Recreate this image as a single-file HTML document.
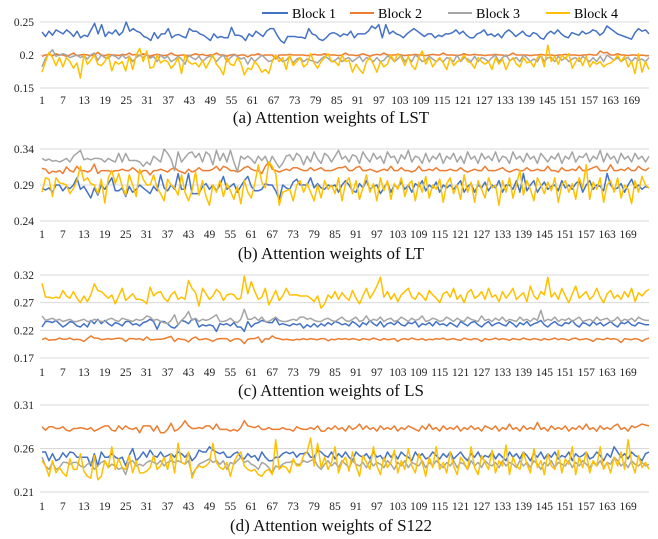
<!DOCTYPE html>
<html><head><meta charset="utf-8">
<style>
html,body{margin:0;padding:0;background:#fff;}
svg{display:block;font-family:"Liberation Serif",serif;}
</style></head>
<body>
<svg id="chart" width="658" height="539" viewBox="0 0 658 539" xmlns="http://www.w3.org/2000/svg">
<g>
  <g><line x1="262" y1="13" x2="288" y2="13" stroke="#4472C4" stroke-width="2"/><text x="292" y="18" font-size="14">Block 1</text></g>
  <g><line x1="350" y1="13" x2="374" y2="13" stroke="#ED7D31" stroke-width="2"/><text x="378" y="18" font-size="14">Block 2</text></g>
  <g><line x1="448" y1="13" x2="472" y2="13" stroke="#A5A5A5" stroke-width="2"/><text x="476" y="18" font-size="14">Block 3</text></g>
  <g><line x1="546" y1="13" x2="570" y2="13" stroke="#FFC000" stroke-width="2"/><text x="574" y="18" font-size="14">Block 4</text></g>
</g>
</svg>
<script>
const xTickLabels = [1,7,13,19,25,31,37,43,49,55,61,67,73,79,85,91,97,103,109,115,121,127,133,139,145,151,157,163,169];
const seriesNames = ["Block 1","Block 2","Block 3","Block 4"];
const panelTitles = ["(a) Attention weights of LST","(b) Attention weights of LT","(c) Attention weights of LS","(d) Attention weights of S122"];
const yTicksA = [0.25,0.2,0.15];
const yTicksB = [0.34,0.29,0.24];
const yTicksC = [0.32,0.27,0.22,0.17];
const yTicksD = [0.31,0.26,0.21];

const lstB1 = [.235,.228,.236,.23,.238,.235,.232,.238,.234,.228,.236,.226,.23,.228,.238,.248,.232,.246,.228,.235,.232,.238,.23,.235,.25,.236,.24,.236,.234,
.228,.226,.222,.234,.225,.232,.232,.24,.226,.23,.231,.228,.226,.24,.236,.236,.232,.23,.226,.222,.232,.226,.228,.226,.226,.242,.23,.23,.228,
.222,.232,.228,.236,.232,.228,.236,.24,.24,.23,.222,.218,.228,.228,.228,.227,.227,.225,.24,.232,.23,.224,.222,.226,.232,.234,.232,.228,.232,
.23,.236,.226,.232,.232,.232,.236,.244,.24,.246,.226,.246,.232,.236,.232,.23,.226,.232,.236,.24,.236,.232,.228,.232,.232,.226,.23,.228,.232,
.232,.234,.238,.232,.236,.23,.226,.226,.232,.234,.238,.23,.232,.228,.232,.226,.234,.238,.234,.228,.232,.236,.23,.228,.234,.232,.226,.224,.232,
.236,.232,.238,.232,.228,.226,.234,.232,.23,.236,.232,.234,.238,.236,.23,.234,.244,.24,.236,.232,.23,.228,.226,.224,.234,.24,.236,.238,.232];
const lstB2 = [.198,.2,.201,.199,.202,.2,.2,.198,.2,.203,.199,.2,.201,.2,.199,.2,.204,.2,.199,.201,.2,.2,.199,.201,.2,.203,.2,.201,.199,
.202,.2,.198,.2,.201,.2,.199,.2,.203,.2,.199,.2,.2,.198,.2,.202,.2,.201,.199,.2,.2,.203,.2,.2,.198,.2,.201,.199,.2,.2,
.197,.2,.2,.202,.199,.2,.2,.2,.194,.2,.2,.2,.201,.2,.2,.2,.2,.199,.2,.201,.2,.2,.202,.2,.2,.2,.199,.2,.203,
.2,.2,.199,.2,.202,.2,.198,.2,.201,.2,.203,.2,.2,.2,.201,.2,.199,.2,.2,.201,.2,.2,.199,.2,.201,.2,.2,.203,.2,
.2,.2,.199,.2,.202,.2,.2,.201,.2,.2,.199,.2,.2,.201,.2,.2,.198,.2,.203,.2,.2,.2,.2,.199,.2,.2,.201,.2,.2,
.2,.199,.2,.2,.201,.2,.2,.2,.199,.2,.2,.201,.2,.2,.206,.203,.204,.2,.2,.202,.2,.2,.199,.2,.2,.199,.2,.199,.199];
const lstB3 = [.182,.195,.202,.208,.198,.2,.202,.2,.196,.198,.2,.196,.199,.194,.2,.203,.192,.2,.196,.195,.2,.198,.194,.2,.195,.198,.19,.196,.2,
.196,.2,.195,.198,.19,.2,.195,.198,.19,.193,.198,.194,.186,.2,.196,.193,.198,.19,.195,.198,.197,.19,.196,.2,.19,.196,.2,.198,.194,.196,
.186,.196,.19,.195,.2,.195,.19,.192,.198,.196,.19,.192,.198,.188,.194,.196,.19,.194,.192,.19,.188,.194,.198,.195,.19,.192,.196,.19,.194,
.196,.19,.194,.198,.19,.196,.194,.19,.196,.19,.192,.198,.196,.19,.194,.2,.19,.196,.19,.2,.196,.19,.192,.198,.194,.19,.194,.19,.196,
.194,.19,.2,.19,.196,.194,.19,.198,.19,.196,.194,.19,.196,.2,.19,.196,.2,.192,.194,.196,.19,.2,.196,.19,.194,.19,.2,.19,.196,
.196,.19,.198,.192,.196,.19,.194,.196,.19,.198,.194,.19,.196,.19,.198,.19,.2,.196,.192,.196,.19,.194,.196,.19,.196,.192,.194,.19,.196];
const lstB4 = [.174,.19,.204,.196,.184,.196,.182,.196,.19,.18,.188,.165,.2,.186,.192,.2,.186,.184,.19,.2,.176,.19,.186,.19,.176,.198,.178,.2,.21,
.19,.206,.18,.182,.2,.188,.192,.19,.18,.186,.196,.172,.2,.19,.186,.188,.182,.192,.18,.19,.2,.186,.18,.17,.196,.186,.184,.196,.188,.17,
.18,.178,.19,.184,.174,.178,.172,.19,.2,.19,.196,.178,.2,.184,.19,.196,.182,.186,.202,.188,.18,.19,.196,.202,.19,.19,.184,.2,.19,
.192,.174,.186,.178,.172,.19,.196,.186,.174,.19,.182,.186,.2,.19,.202,.196,.184,.198,.184,.178,.196,.206,.186,.196,.182,.19,.196,.188,.178,
.196,.184,.19,.192,.2,.19,.188,.18,.196,.19,.186,.19,.178,.196,.186,.194,.178,.19,.196,.186,.182,.196,.188,.19,.182,.196,.2,.182,.215,
.19,.198,.186,.2,.194,.202,.18,.19,.196,.184,.198,.182,.19,.186,.19,.182,.186,.188,.192,.2,.19,.198,.182,.19,.172,.202,.174,.19,.178];

const ltB1 = [.286,.283,.286,.28,.29,.29,.282,.288,.285,.29,.3,.284,.288,.28,.272,.286,.276,.29,.284,.292,.3,.282,.282,.286,.274,.288,.28,.284,.29,
.286,.282,.278,.288,.282,.304,.286,.282,.29,.284,.306,.284,.284,.306,.278,.278,.278,.288,.292,.284,.29,.282,.29,.302,.284,.288,.292,.28,.288,.296,
.302,.288,.282,.282,.284,.292,.29,.29,.282,.27,.29,.286,.284,.294,.298,.29,.29,.29,.3,.286,.292,.286,.284,.29,.288,.29,.28,.29,.296,
.29,.282,.28,.292,.286,.296,.284,.288,.29,.278,.286,.294,.28,.29,.286,.294,.284,.29,.28,.292,.288,.296,.282,.29,.286,.294,.28,.29,.286,
.29,.284,.29,.296,.28,.288,.292,.28,.29,.286,.294,.282,.29,.286,.296,.28,.29,.29,.284,.296,.28,.306,.282,.29,.296,.28,.288,.294,.284,
.288,.29,.282,.296,.286,.29,.284,.292,.296,.28,.29,.296,.284,.29,.288,.282,.306,.29,.284,.286,.292,.28,.29,.298,.286,.29,.284,.288,.286];
const ltB2 = [.313,.312,.306,.309,.308,.31,.306,.315,.31,.308,.316,.31,.31,.308,.31,.319,.306,.31,.31,.31,.308,.31,.31,.312,.31,.31,.314,.31,.306,
.31,.31,.304,.31,.31,.312,.31,.308,.312,.314,.31,.308,.306,.312,.308,.31,.314,.31,.31,.31,.312,.316,.31,.316,.314,.31,.31,.308,.31,.314,
.316,.312,.31,.31,.306,.316,.322,.312,.31,.308,.31,.312,.31,.314,.314,.312,.31,.31,.314,.31,.312,.314,.31,.31,.31,.312,.314,.314,.316,
.31,.31,.314,.316,.31,.31,.312,.31,.308,.31,.312,.31,.316,.31,.31,.314,.31,.31,.308,.31,.316,.31,.31,.312,.31,.314,.31,.31,.31,
.312,.31,.31,.314,.31,.308,.31,.312,.31,.31,.316,.31,.31,.31,.312,.314,.31,.308,.31,.312,.31,.31,.314,.31,.31,.312,.31,.31,.316,
.31,.31,.308,.314,.31,.31,.312,.31,.316,.31,.31,.312,.314,.316,.31,.31,.31,.318,.31,.31,.312,.31,.314,.31,.31,.316,.312,.31,.314];
const ltB3 = [.327,.324,.326,.323,.324,.322,.324,.327,.322,.33,.334,.338,.325,.327,.325,.327,.327,.326,.322,.327,.324,.322,.334,.322,.334,.324,.324,.324,.322,
.316,.322,.318,.33,.326,.322,.34,.334,.326,.31,.336,.322,.328,.334,.336,.328,.334,.322,.336,.332,.318,.338,.324,.334,.322,.338,.322,.308,.33,.326,
.33,.326,.32,.33,.324,.33,.318,.33,.322,.314,.32,.33,.332,.324,.334,.33,.318,.33,.322,.336,.326,.32,.334,.33,.322,.33,.338,.326,.33,
.322,.332,.33,.32,.336,.328,.322,.334,.326,.33,.32,.336,.328,.33,.32,.332,.326,.338,.322,.33,.328,.32,.334,.322,.33,.326,.334,.32,.33,
.326,.334,.322,.33,.32,.336,.326,.33,.32,.334,.326,.33,.324,.336,.322,.33,.328,.32,.336,.326,.33,.322,.334,.326,.33,.32,.334,.328,.322,
.33,.326,.334,.32,.33,.326,.336,.322,.33,.328,.334,.322,.33,.326,.338,.322,.334,.326,.33,.32,.334,.326,.33,.322,.334,.326,.33,.322,.33];
const ltB4 = [.28,.3,.298,.274,.3,.293,.292,.29,.278,.285,.296,.316,.296,.3,.292,.29,.278,.298,.265,.3,.31,.292,.306,.288,.276,.304,.29,.274,.312,
.298,.29,.29,.304,.286,.278,.268,.298,.29,.286,.276,.304,.28,.268,.282,.308,.276,.296,.274,.262,.29,.28,.296,.274,.292,.282,.27,.288,.264,.296,
.28,.272,.292,.318,.294,.286,.322,.316,.306,.262,.28,.282,.284,.268,.29,.296,.28,.292,.28,.268,.29,.272,.296,.284,.29,.278,.3,.268,.292,
.3,.278,.296,.27,.286,.304,.28,.292,.268,.3,.282,.296,.27,.292,.284,.3,.274,.29,.296,.268,.294,.28,.302,.272,.29,.284,.298,.266,.292,
.3,.278,.29,.27,.304,.28,.294,.266,.296,.284,.272,.3,.286,.29,.262,.296,.28,.3,.272,.29,.31,.276,.296,.284,.268,.3,.29,.278,.294,
.282,.3,.266,.29,.296,.28,.292,.27,.3,.286,.318,.27,.294,.284,.3,.266,.29,.296,.28,.3,.272,.29,.284,.264,.296,.28,.302,.29,.286];

const lsB1 = [.226,.236,.236,.234,.238,.232,.226,.23,.236,.234,.228,.226,.232,.226,.238,.232,.24,.232,.238,.232,.228,.234,.232,.228,.236,.236,.23,.232,.228,
.234,.236,.24,.236,.222,.236,.236,.232,.226,.224,.23,.238,.236,.232,.24,.24,.226,.23,.228,.23,.228,.218,.232,.23,.232,.228,.234,.226,.226,.218,
.236,.226,.232,.234,.238,.236,.234,.234,.242,.23,.232,.23,.228,.232,.23,.232,.224,.23,.226,.232,.226,.232,.228,.234,.23,.236,.234,.23,.232,
.228,.236,.232,.226,.234,.23,.238,.232,.228,.236,.226,.232,.234,.23,.236,.23,.228,.234,.232,.236,.226,.232,.23,.234,.228,.236,.23,.232,.228,
.234,.23,.226,.236,.232,.228,.234,.236,.23,.226,.232,.236,.228,.232,.234,.23,.228,.236,.232,.226,.234,.23,.236,.228,.232,.234,.238,.23,.226,
.232,.236,.23,.228,.234,.232,.238,.23,.226,.234,.232,.228,.236,.23,.234,.228,.232,.236,.23,.226,.234,.232,.236,.23,.228,.234,.232,.23,.23];
const lsB2 = [.203,.206,.202,.203,.203,.206,.204,.204,.206,.203,.204,.203,.2,.205,.21,.206,.206,.203,.204,.205,.204,.205,.206,.205,.2,.205,.205,.204,.205,
.202,.208,.203,.203,.204,.204,.205,.207,.209,.2,.205,.204,.203,.199,.205,.208,.203,.204,.205,.203,.2,.204,.205,.205,.205,.2,.204,.205,.203,.196,
.204,.205,.205,.208,.198,.205,.204,.21,.206,.205,.203,.204,.203,.202,.204,.203,.205,.203,.205,.204,.203,.205,.205,.201,.204,.203,.205,.204,.205,
.203,.205,.204,.202,.205,.204,.203,.206,.204,.202,.205,.203,.204,.205,.2,.204,.205,.203,.206,.204,.203,.205,.202,.204,.203,.205,.204,.206,.203,
.204,.205,.203,.202,.206,.204,.203,.205,.204,.2,.205,.203,.204,.206,.203,.205,.204,.202,.205,.204,.203,.206,.204,.203,.205,.204,.202,.205,.203,
.204,.206,.203,.205,.204,.202,.205,.206,.203,.204,.205,.203,.2,.205,.204,.203,.206,.204,.205,.203,.198,.205,.204,.203,.205,.204,.2,.204,.206];
const lsB3 = [.246,.238,.24,.242,.238,.24,.236,.238,.24,.236,.236,.238,.24,.236,.236,.24,.238,.236,.236,.24,.242,.238,.236,.242,.24,.238,.236,.24,.238,
.24,.246,.244,.238,.24,.236,.234,.232,.238,.248,.23,.238,.244,.254,.238,.242,.236,.24,.238,.24,.244,.248,.236,.236,.238,.242,.236,.234,.24,.258,
.24,.24,.244,.238,.244,.236,.236,.24,.244,.238,.236,.236,.238,.24,.238,.244,.244,.24,.242,.238,.236,.236,.24,.242,.238,.236,.24,.244,.238,
.236,.24,.244,.236,.238,.246,.236,.24,.238,.244,.236,.24,.242,.236,.238,.244,.24,.236,.242,.238,.24,.246,.236,.238,.242,.24,.236,.238,.244,
.24,.236,.242,.238,.236,.244,.24,.238,.236,.246,.238,.24,.236,.242,.238,.244,.236,.24,.238,.236,.244,.238,.24,.236,.242,.238,.256,.236,.24,
.238,.244,.236,.24,.238,.242,.236,.24,.244,.236,.238,.24,.236,.244,.238,.24,.242,.236,.238,.244,.236,.24,.238,.242,.236,.244,.24,.238,.238];
const lsB4 = [.305,.28,.28,.278,.28,.278,.292,.282,.278,.29,.278,.27,.282,.272,.284,.304,.292,.29,.284,.278,.284,.268,.282,.296,.274,.28,.286,.276,.276,
.274,.268,.298,.282,.288,.29,.278,.272,.284,.29,.276,.28,.276,.31,.296,.288,.264,.296,.286,.276,.282,.294,.288,.274,.284,.286,.284,.276,.278,.318,
.286,.308,.29,.276,.28,.296,.266,.278,.292,.274,.282,.296,.284,.284,.284,.282,.282,.282,.278,.272,.282,.26,.268,.284,.278,.29,.276,.288,.28,
.274,.292,.278,.268,.282,.296,.278,.288,.3,.316,.28,.29,.276,.286,.272,.284,.29,.296,.28,.276,.288,.282,.274,.292,.284,.278,.27,.286,.29,
.28,.296,.276,.284,.27,.288,.294,.278,.282,.29,.276,.296,.28,.284,.272,.29,.278,.286,.296,.276,.282,.288,.272,.3,.282,.276,.29,.284,.316,
.28,.288,.276,.296,.282,.27,.286,.3,.278,.284,.29,.276,.282,.296,.28,.27,.286,.292,.278,.284,.276,.29,.28,.296,.272,.288,.282,.29,.294];

const sB1 = [.256,.256,.246,.254,.246,.248,.255,.25,.256,.255,.25,.25,.25,.25,.24,.254,.24,.256,.25,.25,.254,.25,.248,.25,.24,.252,.26,.246,.25,
.256,.25,.258,.252,.25,.256,.25,.252,.254,.25,.256,.254,.25,.255,.246,.25,.258,.256,.256,.262,.258,.256,.254,.256,.25,.25,.254,.256,.25,.248,
.254,.25,.252,.246,.256,.25,.246,.246,.25,.25,.254,.256,.254,.256,.25,.254,.254,.256,.25,.25,.258,.256,.252,.25,.256,.248,.254,.25,.256,
.25,.246,.256,.252,.25,.254,.248,.256,.25,.252,.246,.256,.25,.254,.248,.256,.252,.25,.246,.256,.25,.254,.248,.25,.256,.252,.248,.254,.25,
.256,.248,.252,.256,.25,.246,.254,.25,.256,.248,.252,.25,.256,.248,.254,.25,.246,.256,.25,.254,.248,.256,.252,.246,.254,.25,.256,.248,.254,
.25,.256,.248,.252,.25,.256,.246,.254,.25,.252,.256,.248,.25,.256,.252,.246,.254,.25,.262,.256,.25,.254,.248,.256,.252,.25,.246,.254,.256];
const sB2 = [.285,.281,.285,.285,.283,.283,.285,.281,.28,.283,.283,.284,.283,.282,.284,.28,.282,.284,.286,.286,.281,.28,.286,.282,.286,.283,.282,.284,.278,
.286,.286,.286,.28,.286,.278,.278,.282,.289,.28,.282,.286,.292,.286,.283,.283,.284,.283,.286,.286,.282,.288,.282,.282,.282,.28,.282,.28,.284,.292,
.286,.285,.284,.286,.282,.282,.284,.282,.282,.282,.284,.282,.282,.28,.285,.283,.282,.282,.284,.282,.286,.28,.28,.284,.282,.286,.282,.284,.28,
.286,.282,.284,.288,.282,.286,.282,.284,.28,.286,.282,.284,.282,.286,.28,.284,.282,.286,.284,.282,.28,.286,.282,.288,.282,.284,.28,.286,.282,
.284,.282,.286,.28,.284,.282,.286,.282,.284,.28,.286,.284,.282,.286,.28,.284,.282,.288,.282,.284,.28,.286,.282,.284,.282,.29,.282,.284,.28,
.286,.282,.284,.282,.286,.28,.284,.282,.286,.282,.288,.282,.284,.28,.286,.282,.284,.282,.286,.288,.282,.284,.28,.286,.284,.286,.288,.287,.286];
const sB3 = [.25,.24,.236,.244,.236,.238,.244,.244,.242,.244,.244,.24,.238,.242,.244,.236,.24,.244,.246,.238,.242,.24,.236,.238,.23,.244,.246,.24,.242,
.24,.244,.246,.244,.242,.246,.24,.244,.246,.244,.246,.244,.242,.246,.23,.236,.242,.244,.246,.248,.244,.246,.242,.246,.236,.244,.242,.246,.25,.244,
.246,.242,.24,.236,.244,.242,.238,.232,.24,.238,.242,.244,.244,.246,.242,.242,.246,.244,.246,.248,.24,.236,.242,.246,.24,.244,.238,.246,.242,
.238,.246,.242,.24,.244,.238,.246,.24,.244,.242,.238,.246,.242,.236,.244,.24,.246,.238,.244,.242,.24,.246,.238,.244,.24,.246,.242,.238,.244,
.24,.246,.238,.244,.242,.236,.246,.24,.244,.238,.246,.242,.24,.244,.238,.246,.24,.244,.242,.238,.246,.24,.244,.238,.246,.242,.236,.244,.24,
.246,.238,.244,.242,.24,.246,.238,.244,.24,.246,.242,.238,.244,.24,.246,.238,.244,.242,.25,.246,.24,.244,.238,.246,.242,.24,.244,.24,.242];
const sB4 = [.246,.24,.228,.246,.232,.238,.232,.228,.248,.236,.236,.254,.234,.228,.226,.252,.224,.228,.246,.238,.262,.236,.248,.238,.236,.252,.232,.246,.232,
.232,.234,.238,.252,.236,.24,.25,.236,.254,.232,.266,.244,.242,.256,.226,.236,.24,.238,.24,.244,.266,.244,.238,.236,.244,.228,.244,.252,.256,.24,
.236,.234,.236,.23,.228,.234,.236,.23,.27,.236,.24,.238,.232,.248,.24,.24,.252,.256,.272,.24,.266,.238,.25,.236,.244,.262,.232,.244,.25,
.234,.256,.24,.228,.252,.244,.236,.262,.24,.23,.25,.238,.244,.258,.232,.246,.236,.26,.24,.232,.254,.244,.228,.25,.238,.262,.236,.244,.232,
.256,.24,.23,.25,.244,.236,.262,.238,.23,.252,.244,.236,.258,.232,.246,.24,.264,.23,.25,.24,.236,.256,.242,.232,.26,.238,.246,.23,.254,
.24,.236,.258,.232,.248,.242,.262,.23,.25,.238,.256,.232,.246,.24,.262,.236,.244,.232,.25,.24,.256,.236,.27,.244,.232,.252,.238,.244,.236];

const colors = ["#4472C4","#ED7D31","#A5A5A5","#FFC000"];
const panels = [
  {name:"lst", top:22, bottom:88, min:0.15, max:0.25, ticks:yTicksA, series:[lstB1,lstB2,lstB3,lstB4], labelY:104, titleY:123},
  {name:"lt", top:149, bottom:221, min:0.24, max:0.34, ticks:yTicksB, series:[ltB1,ltB2,ltB3,ltB4], labelY:238, titleY:259},
  {name:"ls", top:275, bottom:358, min:0.17, max:0.32, ticks:yTicksC, series:[lsB1,lsB2,lsB3,lsB4], labelY:376, titleY:396},
  {name:"s122", top:405, bottom:492, min:0.21, max:0.31, ticks:yTicksD, series:[sB1,sB2,sB3,sB4], labelY:510, titleY:531}
];
const NS = "http://www.w3.org/2000/svg";
const svg = document.getElementById("chart");
const X0 = 42, X1 = 649, GL = 40;
function xScale(i, n){ return X0 + i*(X1-X0)/(n-1); }
function mk(tag, attrs){ const e=document.createElementNS(NS,tag); for(const k in attrs) e.setAttribute(k,attrs[k]); return e; }

panels.forEach((p, pi) => {
  const g = mk("g",{});
  
  
  svg.appendChild(g);
  const yScale = v => p.bottom - (v - p.min)/(p.max - p.min)*(p.bottom - p.top);
  p.ticks.forEach(t => {
    const gl = mk("line",{x1:GL,x2:X1,y1:yScale(t),y2:yScale(t),stroke:"#d9d9d9","stroke-width":1});
    
    
    g.appendChild(gl);
    const tl = mk("text",{x:34,y:yScale(t)+4,"text-anchor":"end","font-size":"11.5",fill:"#222"});
    tl.textContent = String(t);
    
    
    g.appendChild(tl);
  });
  const n = p.series[0].length;
  xTickLabels.forEach(v => {
    const xl = mk("text",{x:xScale(v-1,n),y:p.labelY,"text-anchor":"middle","font-size":"11.5",fill:"#222"});
    xl.textContent = String(v);
    
    
    g.appendChild(xl);
  });
  p.series.forEach((s, si) => {
    const pts = s.map((v,i) => xScale(i,s.length).toFixed(1)+","+yScale(v).toFixed(1)).join(" ");
    const pl = mk("polyline",{points:pts,fill:"none",stroke:colors[si],"stroke-width":1.5,"stroke-linejoin":"round"});
    
    
    g.appendChild(pl);
  });
  const tt = mk("text",{x:331,y:p.titleY,"text-anchor":"middle","font-size":"17",fill:"#111"});
  tt.textContent = panelTitles[pi];
  
  
  g.appendChild(tt);
});
</script>
</body></html>
